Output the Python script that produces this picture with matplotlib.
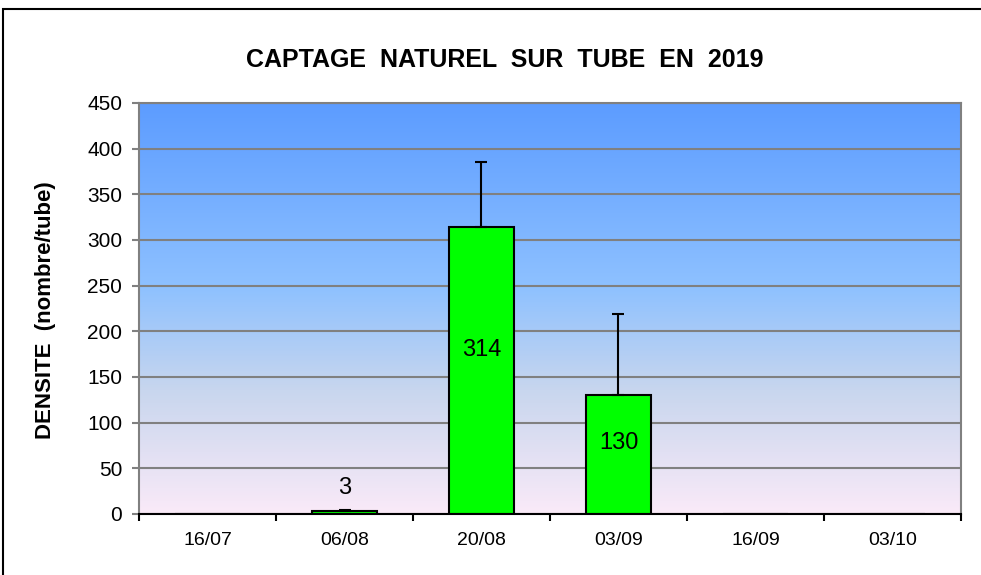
import numpy as np
import matplotlib
matplotlib.use("Agg")
import matplotlib.pyplot as plt
from matplotlib.colors import LinearSegmentedColormap
from matplotlib.patches import Rectangle

plt.rcParams['font.family'] = ['Liberation Sans', 'DejaVu Sans']

dates = ['16/07', '06/08', '20/08', '03/09', '16/09', '03/10']
densite = [0, 3, 314, 130, 0, 0]
erreur = [0, 1, 71, 89, 0, 0]
labels = ['', '3', '314', '130', '', '']
label_y = [0, 29, 180, 78, 0, 0]

fig = plt.figure(figsize=(9.81, 5.75), dpi=100)
ax = fig.add_axes([0.1417, 0.1061, 0.8379, 0.7148])

# degrade de fond (rose en bas -> bleu en haut)
cmap = LinearSegmentedColormap.from_list('fond', [
    (0.0, (250/255, 234/255, 248/255)),
    (0.3, (200/255, 214/255, 238/255)),
    (0.55, (142/255, 193/255, 255/255)),
    (1.0, (92/255, 156/255, 255/255)),
])
grad = np.linspace(0, 1, 256).reshape(-1, 1)
ax.imshow(grad, cmap=cmap, aspect='auto', origin='lower',
          extent=[-0.5, 5.5, 0, 450], zorder=0)

x = np.arange(len(dates))
ax.bar(x, densite, width=0.48, color='#00FF00', edgecolor='black',
       linewidth=1.5, zorder=3)
ax.errorbar(x[1:4], densite[1:4], yerr=[[0, 0, 0], erreur[1:4]], fmt='none',
            ecolor='black', elinewidth=1.5, capsize=4.5, capthick=1.5, zorder=4)

for xi, lab, ly in zip(x, labels, label_y):
    if lab:
        ax.text(xi, ly, lab, ha='center', va='center', fontsize=17, zorder=5)

ax.set_xlim(-0.5, 5.5)
ax.set_ylim(0, 450)
ax.set_yticks(range(0, 451, 50))
ax.yaxis.grid(True, color='#808080', linewidth=1.5, zorder=1)
ax.set_axisbelow(False)

ax.set_xticks(np.arange(-0.5, 6, 1))
ax.set_xticklabels([])
ax.set_xticks(x, minor=True)
ax.set_xticklabels(dates, minor=True, fontsize=14)
ax.tick_params(axis='x', which='major', length=5, width=1.5, color='black')
ax.tick_params(axis='x', which='minor', length=0, pad=13)
ax.tick_params(axis='y', length=5, width=1.5, color='#808080', labelsize=15, pad=7)

for side in ['left', 'top', 'right']:
    ax.spines[side].set_color('#808080')
    ax.spines[side].set_linewidth(1.5)
ax.spines['bottom'].set_color('black')
ax.spines['bottom'].set_linewidth(1.5)
ax.spines['bottom'].set_zorder(6)

ax.set_ylabel('DENSITE  (nombre/tube)', fontsize=16, fontweight='bold')
ax.yaxis.set_label_coords(-0.101, 0.496)
fig.text(0.515, 0.896, 'CAPTAGE  NATUREL  SUR  TUBE  EN  2019', ha='center', va='center',
         fontsize=18, fontweight='bold')

fig.patches.append(Rectangle((3/981, -0.05), 1.1, (575-9)/575 + 0.05,
                             transform=fig.transFigure, fill=False,
                             edgecolor='black', linewidth=1.5))

fig.savefig('out.png', dpi=100)
